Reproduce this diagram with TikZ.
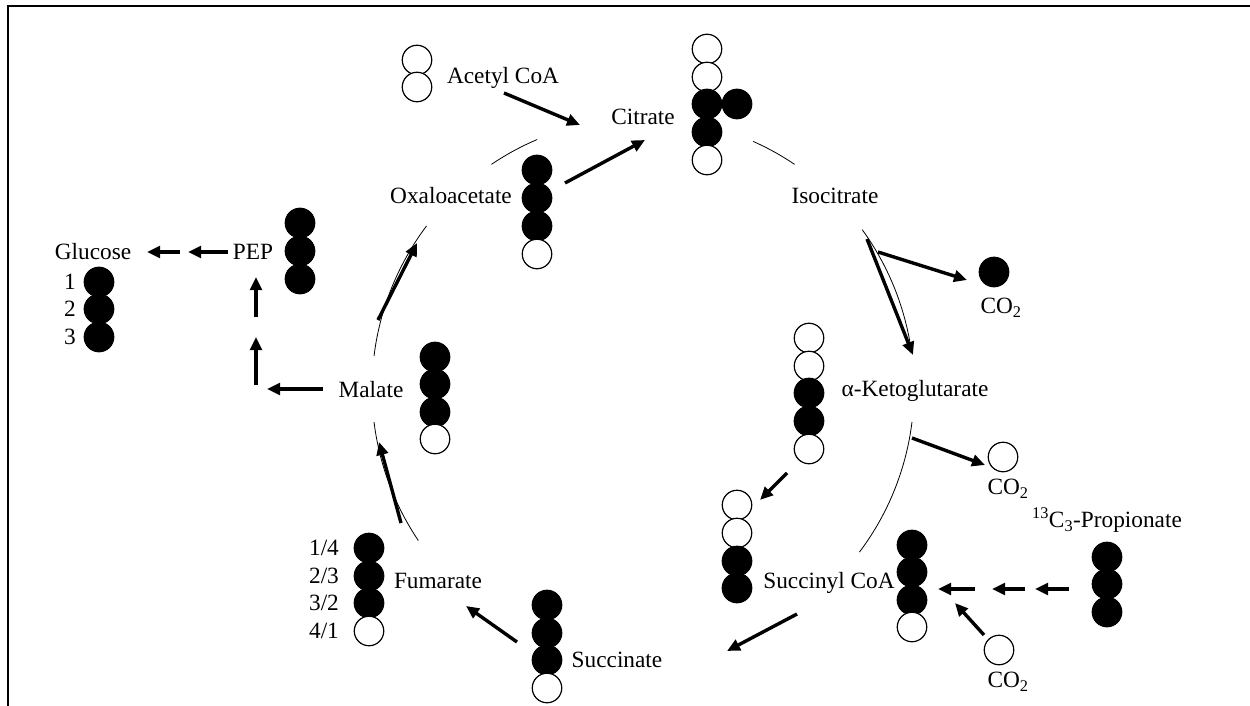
\documentclass[tikz,border=0pt]{standalone}
\usepackage{fontspec}
\setmainfont{Liberation Serif}
\usetikzlibrary{arrows.meta}
\begin{document}
\begin{tikzpicture}[x=1pt,y=-1pt,
  lbl/.style={inner sep=0pt, text height=15.5pt, text depth=0pt, font=\fontsize{23.3}{28}\selectfont},
  atomW/.style={circle, draw, line width=1.2pt, minimum size=29.5pt, inner sep=0pt, fill=white},
  atomB/.style={atomW, fill=black},
  flow/.style={line width=3.4pt, -{Triangle[length=13pt,width=11.5pt]}},
  ring/.style={line width=0.8pt},
  frame/.style={line width=2pt}]
\useasboundingbox (0,0) rectangle (1250,706);
% frame
\draw[frame] (8,712) -- (8,6) -- (1256,6);

% cycle arcs
\draw[ring] plot[domain=113:124, samples=20, smooth] ({643+271*cos(\x)},{389-271*sin(\x)});
\draw[ring] plot[domain=56:66, samples=20, smooth] ({643+271*cos(\x)},{389-271*sin(\x)});
\draw[ring] plot[domain=9:36, samples=30, smooth] ({643+271*cos(\x)},{389-271*sin(\x)});
\draw[ring] plot[domain=-37:-7, samples=30, smooth] ({643+271*cos(\x)},{389-271*sin(\x)});
\draw[ring] plot[domain=187:214, samples=30, smooth] ({643+271*cos(\x)},{389-271*sin(\x)});
\draw[ring] plot[domain=143:173, samples=30, smooth] ({643+271*cos(\x)},{389-271*sin(\x)});

% Acetyl CoA
\node[atomW] (ac1) at (417,60) {};
\node[atomW] (ac2) at (417,87) {};
\node[lbl] (acetyl) at (503,76) {Acetyl CoA};

% Citrate
\node[lbl] (citrate) at (643,117) {Citrate};
\node[atomW] (cit1) at (707,49) {};
\node[atomW] (cit2) at (707,77) {};
\node[atomB] (cit3) at (707,104) {};
\node[atomB] (cit4) at (707,132) {};
\node[atomW] (cit5) at (707,160) {};
\node[atomB] (cit6) at (737,104) {};

% Oxaloacetate
\node[lbl] (oaa) at (451,196) {Oxaloacetate};
\node[atomB] (oaa1) at (537,170) {};
\node[atomB] (oaa2) at (537,198) {};
\node[atomB] (oaa3) at (537,226) {};
\node[atomW] (oaa4) at (537,254) {};

% Isocitrate
\node[lbl] (iso) at (835,196) {Isocitrate};
\node[atomB] (co2a) at (994,272) {};
\node[lbl] (co2atext) at (1001,306) {CO\textsubscript{2}};

% alpha-Ketoglutarate
\node[lbl] (akg) at (915,389) {α-Ketoglutarate};
\node[atomW] (akg1) at (809,338) {};
\node[atomW] (akg2) at (809,366) {};
\node[atomB] (akg3) at (809,393) {};
\node[atomB] (akg4) at (809,421) {};
\node[atomW] (akg5) at (809,449) {};
\node[atomW] (co2b) at (1003,457) {};
\node[lbl] (co2btext) at (1008,487) {CO\textsubscript{2}};

% Succinyl CoA
\node[atomW] (sl1) at (737,505) {};
\node[atomW] (sl2) at (737,533) {};
\node[atomB] (sl3) at (737,561) {};
\node[atomB] (sl4) at (737,588) {};
\node[lbl] (succoa) at (829,581) {Succinyl CoA};
\node[atomB] (sr1) at (912,545) {};
\node[atomB] (sr2) at (912,572) {};
\node[atomB] (sr3) at (912,600) {};
\node[atomW] (sr4) at (912,627) {};

% Propionate
\node[lbl] (prop) at (1107,520) {\textsuperscript{13}C\textsubscript{3}-Propionate};
\node[atomB] (pr1) at (1107,557) {};
\node[atomB] (pr2) at (1107,584) {};
\node[atomB] (pr3) at (1107,612) {};
\node[atomW] (co2c) at (999,650) {};
\node[lbl] (co2ctext) at (1008,680) {CO\textsubscript{2}};

% Succinate
\node[lbl] (succ) at (617,660) {Succinate};
\node[atomB] (su1) at (547,605) {};
\node[atomB] (su2) at (547,633) {};
\node[atomB] (su3) at (547,660) {};
\node[atomW] (su4) at (547,688) {};

% Fumarate
\node[lbl] (fum) at (438,581) {Fumarate};
\node[atomB] (fu1) at (369,548) {};
\node[atomB] (fu2) at (369,576) {};
\node[atomB] (fu3) at (369,603) {};
\node[atomW] (fu4) at (369,631) {};
\node[lbl] (fl1) at (324,548) {1/4};
\node[lbl] (fl2) at (324,576) {2/3};
\node[lbl] (fl3) at (324,603) {3/2};
\node[lbl] (fl4) at (324,631) {4/1};

% Malate
\node[lbl] (mal) at (371,390) {Malate};
\node[atomB] (ma1) at (435,357) {};
\node[atomB] (ma2) at (435,384) {};
\node[atomB] (ma3) at (435,412) {};
\node[atomW] (ma4) at (435,439) {};

% PEP
\node[lbl] (pep) at (253,252) {PEP};
\node[atomB] (pe1) at (300,223) {};
\node[atomB] (pe2) at (300,251) {};
\node[atomB] (pe3) at (300,279) {};

% Glucose
\node[lbl] (glu) at (93,252) {Glucose};
\node[atomB] (gl1) at (99,282) {};
\node[atomB] (gl2) at (99,309) {};
\node[atomB] (gl3) at (99,337) {};
\node[lbl] (gn1) at (70,282) {1};
\node[lbl] (gn2) at (70,309) {2};
\node[lbl] (gn3) at (70,337) {3};

% arrow end points
\coordinate (p1s) at (504,93);   \coordinate (p1e) at (580,125);
\coordinate (p2s) at (565,183);  \coordinate (p2e) at (645,140);
\coordinate (p3s) at (867,239);  \coordinate (p3e) at (913,355);
\coordinate (p4s) at (878,252);  \coordinate (p4e) at (967,280);
\coordinate (p5s) at (912,438);  \coordinate (p5e) at (985,465);
\coordinate (p6s) at (787,473);  \coordinate (p6e) at (760,500);
\coordinate (p7s) at (797,614);  \coordinate (p7e) at (727,651);
\coordinate (p8s) at (517,642);  \coordinate (p8e) at (466,606);
\coordinate (p9s) at (401,523);  \coordinate (p9e) at (379,442);
\coordinate (p10s) at (378,320); \coordinate (p10e) at (417,243);
\coordinate (p11s) at (323,389); \coordinate (p11e) at (267,389);
\coordinate (p12s) at (256,385); \coordinate (p12e) at (256,337);
\coordinate (p13s) at (256,317); \coordinate (p13e) at (256,277);
\coordinate (p14s) at (228,252); \coordinate (p14e) at (188,252);
\coordinate (p15s) at (180,252); \coordinate (p15e) at (147,252);
\coordinate (p16s) at (1069,589); \coordinate (p16e) at (1035,589);
\coordinate (p17s) at (1025,589); \coordinate (p17e) at (992,589);
\coordinate (p18s) at (975,589);  \coordinate (p18e) at (938,589);
\coordinate (p19s) at (984,635);  \coordinate (p19e) at (955,603);

\foreach \i in {1,...,19} {\draw[flow] (p\i s) -- (p\i e);}
\end{tikzpicture}
\end{document}
